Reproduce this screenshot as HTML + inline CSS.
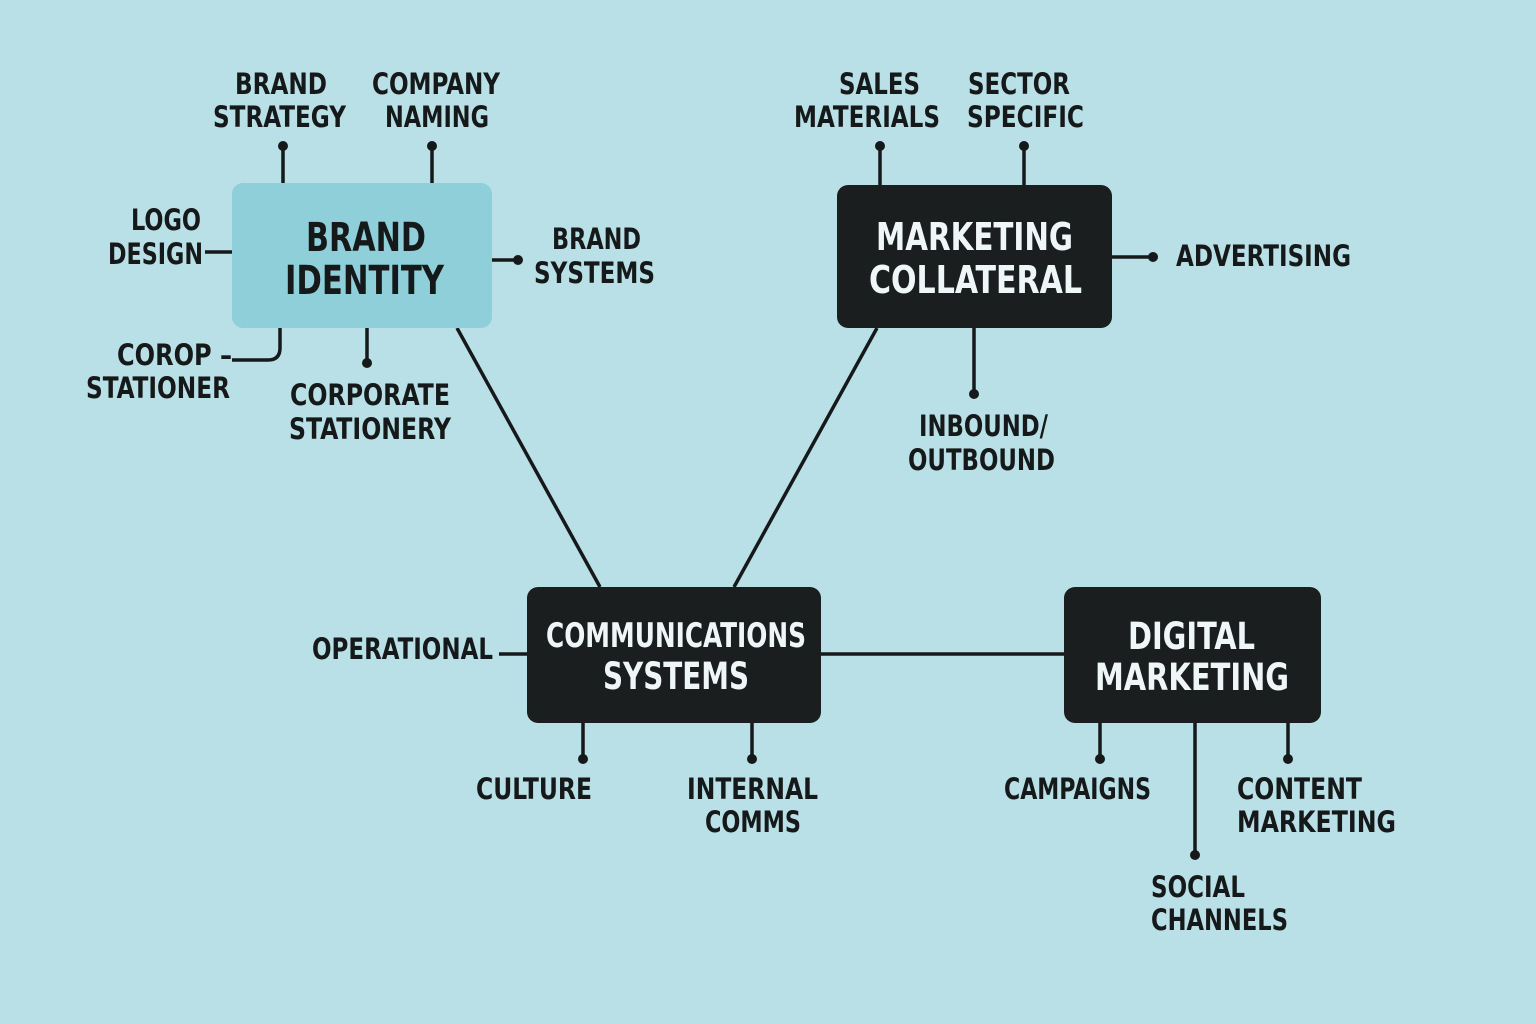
<!DOCTYPE html>
<html><head><meta charset="utf-8"><style>
html,body{margin:0;padding:0;background:#b9e0e6;}
svg{display:block}
text{font-family:"DejaVu Sans Condensed","Liberation Sans Narrow","Liberation Sans",sans-serif;}
.l{font-size:29px;fill:#16191a;font-weight:bold}
.b{font-size:40px;font-weight:bold}
</style></head><body>
<svg width="1536" height="1024" viewBox="0 0 1536 1024" xmlns="http://www.w3.org/2000/svg">
<rect width="1536" height="1024" fill="#b9e0e6"/>
<g stroke="#16191a" stroke-width="3.5" fill="none">
<line x1="457" y1="328" x2="600" y2="587"/>
<line x1="877" y1="328" x2="734" y2="587"/>
<line x1="821" y1="654" x2="1064" y2="654"/>
<line x1="283" y1="145" x2="283" y2="183"/>
<line x1="432" y1="145" x2="432" y2="183"/>
<line x1="205" y1="252" x2="232" y2="252"/>
<line x1="492" y1="260" x2="518" y2="260"/>
<path d="M280 328 V348 Q280 360 268 360 H232"/>
<line x1="367" y1="328" x2="367" y2="362"/>
<line x1="880" y1="145" x2="880" y2="185"/>
<line x1="1024" y1="145" x2="1024" y2="185"/>
<line x1="1112" y1="257" x2="1153" y2="257"/>
<line x1="974" y1="328" x2="974" y2="394"/>
<line x1="499" y1="654" x2="527" y2="654"/>
<line x1="583" y1="723" x2="583" y2="759"/>
<line x1="752" y1="723" x2="752" y2="759"/>
<line x1="1100" y1="723" x2="1100" y2="759"/>
<line x1="1288" y1="723" x2="1288" y2="759"/>
<line x1="1195" y1="723" x2="1195" y2="855"/>
</g>
<g fill="#16191a">
<circle cx="283" cy="146" r="5"/><circle cx="432" cy="146" r="5"/>
<circle cx="518" cy="260" r="5"/><circle cx="367" cy="363" r="5"/>
<circle cx="880" cy="146" r="5"/><circle cx="1024" cy="146" r="5"/>
<circle cx="1153" cy="257" r="5"/><circle cx="974" cy="394" r="5"/>
<circle cx="583" cy="759" r="5"/><circle cx="752" cy="759" r="5"/>
<circle cx="1100" cy="759" r="5"/><circle cx="1288" cy="759" r="5"/>
<circle cx="1195" cy="855" r="5"/>
</g>
<rect x="232" y="183" width="260" height="145" rx="11" fill="#8ecfd9"/>
<rect x="837" y="185" width="275" height="143" rx="11" fill="#1b1e1f"/>
<rect x="527" y="587" width="294" height="136" rx="11" fill="#1b1e1f"/>
<rect x="1064" y="587" width="257" height="136" rx="11" fill="#1b1e1f"/>
<g class="b">
<text x="306" y="251" textLength="120" lengthAdjust="spacingAndGlyphs" fill="#16191a">BRAND</text>
<text x="285" y="294" textLength="159" lengthAdjust="spacingAndGlyphs" fill="#16191a">IDENTITY</text>
<text x="876" y="250" textLength="197" lengthAdjust="spacingAndGlyphs" fill="#eef6f7" font-size="38">MARKETING</text>
<text x="869" y="293" textLength="213" lengthAdjust="spacingAndGlyphs" fill="#eef6f7" font-size="38">COLLATERAL</text>
<text x="546" y="647" textLength="260" lengthAdjust="spacingAndGlyphs" fill="#eef6f7" font-size="34">COMMUNICATIONS</text>
<text x="603" y="689" textLength="146" lengthAdjust="spacingAndGlyphs" fill="#eef6f7" font-size="37">SYSTEMS</text>
<text x="1128" y="649" textLength="127" lengthAdjust="spacingAndGlyphs" fill="#eef6f7" font-size="37">DIGITAL</text>
<text x="1095" y="690" textLength="194" lengthAdjust="spacingAndGlyphs" fill="#eef6f7" font-size="37">MARKETING</text>
</g>
<g class="l">
<text x="235" y="94" textLength="92" lengthAdjust="spacingAndGlyphs">BRAND</text>
<text x="213" y="127" textLength="133" lengthAdjust="spacingAndGlyphs">STRATEGY</text>
<text x="372" y="94" textLength="128" lengthAdjust="spacingAndGlyphs">COMPANY</text>
<text x="385" y="127" textLength="104" lengthAdjust="spacingAndGlyphs">NAMING</text>
<text x="131" y="230" textLength="70" lengthAdjust="spacingAndGlyphs">LOGO</text>
<text x="108" y="264" textLength="95" lengthAdjust="spacingAndGlyphs">DESIGN</text>
<text x="552" y="249" textLength="89" lengthAdjust="spacingAndGlyphs">BRAND</text>
<text x="534" y="283" textLength="121" lengthAdjust="spacingAndGlyphs">SYSTEMS</text>
<text x="117" y="365" textLength="115" lengthAdjust="spacingAndGlyphs">COROP –</text>
<text x="86" y="398" textLength="144" lengthAdjust="spacingAndGlyphs">STATIONER</text>
<text x="290" y="405" textLength="160" lengthAdjust="spacingAndGlyphs">CORPORATE</text>
<text x="289" y="439" textLength="162" lengthAdjust="spacingAndGlyphs">STATIONERY</text>
<text x="839" y="94" textLength="81" lengthAdjust="spacingAndGlyphs">SALES</text>
<text x="794" y="127" textLength="146" lengthAdjust="spacingAndGlyphs">MATERIALS</text>
<text x="968" y="94" textLength="102" lengthAdjust="spacingAndGlyphs">SECTOR</text>
<text x="967" y="127" textLength="117" lengthAdjust="spacingAndGlyphs">SPECIFIC</text>
<text x="1176" y="266" textLength="175" lengthAdjust="spacingAndGlyphs">ADVERTISING</text>
<text x="919" y="436" textLength="129" lengthAdjust="spacingAndGlyphs">INBOUND/</text>
<text x="908" y="470" textLength="147" lengthAdjust="spacingAndGlyphs">OUTBOUND</text>
<text x="312" y="659" textLength="181" lengthAdjust="spacingAndGlyphs">OPERATIONAL</text>
<text x="476" y="799" textLength="116" lengthAdjust="spacingAndGlyphs">CULTURE</text>
<text x="687" y="799" textLength="131" lengthAdjust="spacingAndGlyphs">INTERNAL</text>
<text x="705" y="832" textLength="96" lengthAdjust="spacingAndGlyphs">COMMS</text>
<text x="1004" y="799" textLength="147" lengthAdjust="spacingAndGlyphs">CAMPAIGNS</text>
<text x="1237" y="799" textLength="125" lengthAdjust="spacingAndGlyphs">CONTENT</text>
<text x="1237" y="832" textLength="159" lengthAdjust="spacingAndGlyphs">MARKETING</text>
<text x="1151" y="897" textLength="94" lengthAdjust="spacingAndGlyphs">SOCIAL</text>
<text x="1151" y="930" textLength="137" lengthAdjust="spacingAndGlyphs">CHANNELS</text>
</g>
</svg>
</body></html>
